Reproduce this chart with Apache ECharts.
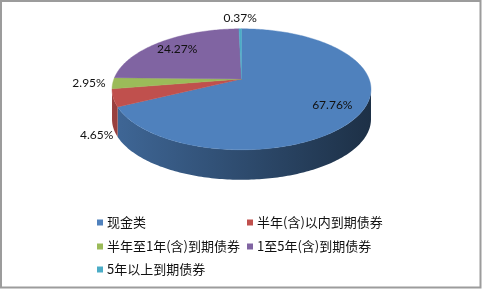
<!DOCTYPE html>
<html>
<head>
<meta charset="utf-8">
<script src="https://cdn.jsdelivr.net/npm/echarts@6/dist/echarts.min.js"></script>
<style>
  html, body { margin: 0; padding: 0; background: #fff; }
  #chart { width: 482px; height: 289px; }
</style>
</head>
<body>
<div id="chart"></div>
<script>
// Portfolio allocation by asset type (percent of total)
const categories = ['现金类', '半年(含)以内到期债券', '半年至1年(含)到期债券', '1至5年(含)到期债券', '5年以上到期债券'];
const shares = [67.76, 4.65, 2.95, 24.27, 0.37];
const colors = ['#4f81bd', '#c0504d', '#9bbb59', '#8064a2', '#4bacc6'];

// Tilted-disc geometry (screen pixels)
const CX = 241.5, APEX_Y = 79, SX = 127.6, SY = 58.75, PERSP = 0.17, DEPTH = 30;
const total = shares.reduce((a, b) => a + b, 0);
const starts = [];
shares.reduce((acc, v, i) => { starts[i] = acc; return acc + v; }, 0);

// Angle measured clockwise from 12 o'clock; r is fraction of the radius
function project(r, th) {
  const u = r * Math.sin(th), v = r * Math.cos(th);
  const w = 1 + PERSP * v;
  return [CX + SX * u / w, APEX_Y - SY * v / w];
}
function shade(hex, f) {
  const n = parseInt(hex.slice(1), 16);
  const r = Math.round(((n >> 16) & 255) * f), g = Math.round(((n >> 8) & 255) * f), b = Math.round((n & 255) * f);
  return 'rgb(' + r + ',' + g + ',' + b + ')';
}
function arc(a0, a1) {
  const pts = [];
  const steps = Math.max(2, Math.ceil((a1 - a0) / (Math.PI / 180)));
  for (let k = 0; k <= steps; k++) pts.push(project(1, a0 + (a1 - a0) * k / steps));
  return pts;
}

const HALF_W = SX / Math.sqrt(1 - PERSP * PERSP);
const FRONT_A = Math.acos(-PERSP), FRONT_B = 2 * Math.PI - Math.acos(-PERSP);

function renderSlice(params, api) {
  const i = params.seriesIndex;
  const value = api.value(0);
  const a0 = starts[i] / total * 2 * Math.PI;
  const a1 = a0 + value / total * 2 * Math.PI;
  const base = colors[i];
  const children = [];

  // Visible side wall (front half of the rim)
  const w0 = Math.max(a0, FRONT_A), w1 = Math.min(a1, FRONT_B);
  if (w1 > w0) {
    const top = arc(w0, w1);
    const bottom = top.map(p => [p[0], p[1] + DEPTH]).reverse();
    children.push({
      type: 'polygon',
      shape: { points: top.concat(bottom) },
      style: {
        fill: new echarts.graphic.LinearGradient(CX - HALF_W, 0, CX + HALF_W, 0, [
          { offset: 0, color: shade(base, 0.8) },
          { offset: 1, color: shade(base, 0.37) }
        ], true),
        stroke: null
      }
    });
  }

  // Top face
  children.push({
    type: 'polygon',
    shape: { points: [project(0, 0)].concat(arc(a0, a1)) },
    style: { fill: base, stroke: base, lineWidth: 0.4 }
  });

  // Percentage label
  const mid = (a0 + a1) / 2;
  const label = value.toFixed(2) + '%';
  const u = Math.sin(mid), v = Math.cos(mid);
  let tx, ty, align, vAlign;
  if (value > 10) {
    [tx, ty] = project(0.78, mid);
    align = 'center'; vAlign = 'middle';
  } else {
    const rim = project(1, mid);
    if (Math.abs(u) < 0.3 && v > 0) {
      tx = rim[0]; ty = rim[1] - 5; align = 'center'; vAlign = 'bottom';
    } else if (v < -PERSP) {
      tx = rim[0] + (u < 0 ? 0 : 0); ty = rim[1] + DEPTH + 1;
      align = u < 0 ? 'right' : 'left'; vAlign = 'top';
    } else {
      tx = rim[0] + (u < 0 ? -7 : 7); ty = rim[1];
      align = u < 0 ? 'right' : 'left'; vAlign = 'middle';
    }
  }
  children.push({
    type: 'text',
    z2: 100,
    style: {
      text: label, x: tx, y: ty, align: align, verticalAlign: vAlign,
      fontSize: 12, fontFamily: 'Lato', fill: '#111'
    }
  });

  return { type: 'group', children: children };
}

const legendSpots = [[97, 216], [247, 216], [97, 240], [247, 240], [97, 263]];

const option = {
  backgroundColor: '#fff',
  animation: false,
  legend: categories.map((name, i) => ({
    data: [name],
    left: legendSpots[i][0],
    top: legendSpots[i][1],
    padding: 0,
    icon: 'rect',
    itemWidth: 6,
    itemHeight: 6,
    itemGap: 0,
    selectedMode: false,
    textStyle: { fontSize: 13, fontFamily: 'Noto Sans CJK SC', color: '#111', padding: [0, 0, 0, -1] }
  })),
  graphic: [{
    type: 'rect',
    shape: { x: 1, y: 1, width: 479.5, height: 286.5 },
    style: { fill: null, stroke: '#9c9c9c', lineWidth: 2 },
    silent: true
  }],
  series: categories.map((name, i) => ({
    type: 'custom',
    name: name,
    coordinateSystem: 'none',
    itemStyle: { color: colors[i] },
    renderItem: renderSlice,
    data: [shares[i]]
  }))
};

const chart = echarts.init(document.getElementById('chart'), null, { renderer: 'canvas' });
chart.setOption(option);
</script>
</body>
</html>
